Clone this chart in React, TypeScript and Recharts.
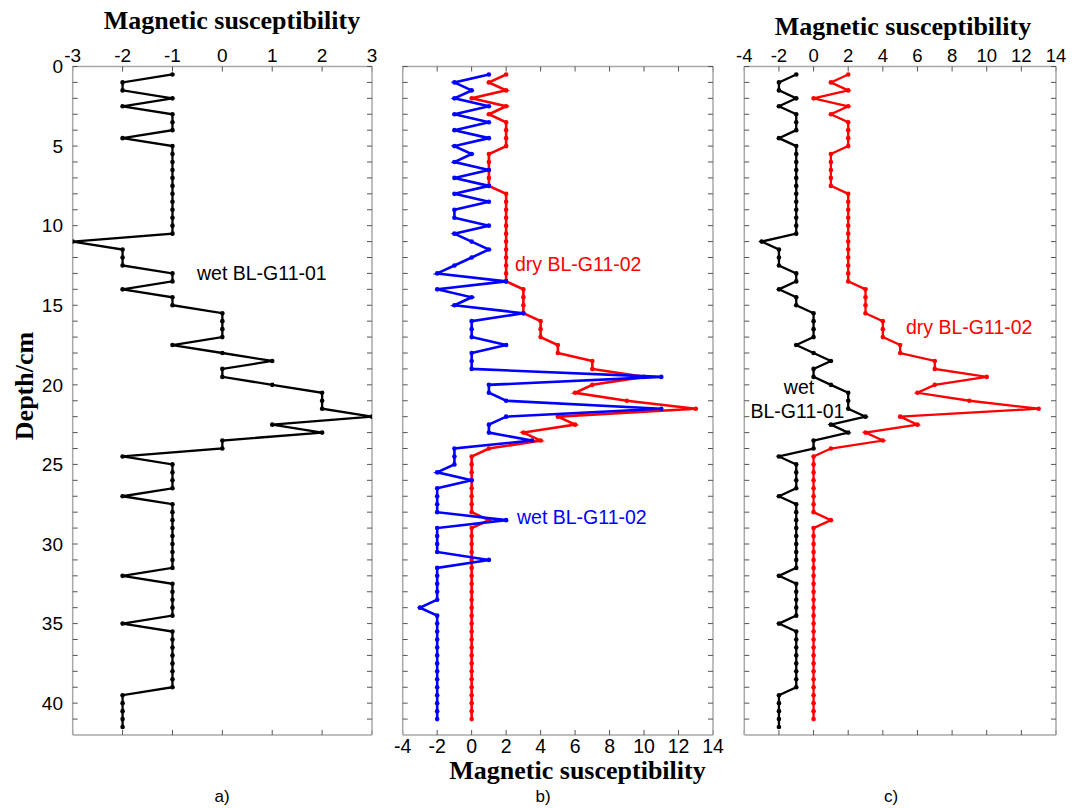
import React from 'react';
import { ScatterChart, Scatter, XAxis, YAxis } from 'recharts';

// Depths (cm)
const depthWet01 = [
  0.5, 1, 1.5, 2, 2.5, 3, 3.5, 4, 4.5, 5, 5.5, 6, 6.5, 7, 7.5, 8, 8.5, 9, 9.5, 10,
  10.5, 11, 11.5, 12, 12.5, 13, 13.5, 14, 14.5, 15, 15.5, 16, 16.5, 17, 17.5, 18, 18.5, 19, 19.5, 20,
  20.5, 21, 21.5, 22, 22.5, 23, 23.5, 24, 24.5, 25, 25.5, 26, 26.5, 27, 27.5, 28, 28.5, 29, 29.5, 30,
  30.5, 31, 31.5, 32, 32.5, 33, 33.5, 34, 34.5, 35, 35.5, 36, 36.5, 37, 37.5, 38, 38.5, 39, 39.5, 40,
  40.5, 41, 41.5,
];
const depthG1102 = [
  0.5, 1, 1.5, 2, 2.5, 3, 3.5, 4, 4.5, 5, 5.5, 6, 6.5, 7, 7.5, 8, 8.5, 9, 9.5, 10,
  10.5, 11, 11.5, 12, 12.5, 13, 13.5, 14, 14.5, 15, 15.5, 16, 16.5, 17, 17.5, 18, 18.5, 19, 19.5, 20,
  20.5, 21, 21.5, 22, 22.5, 23, 23.5, 24, 24.5, 25, 25.5, 26, 26.5, 27, 27.5, 28, 28.5, 29, 29.5, 30,
  30.5, 31, 31.5, 32, 32.5, 33, 33.5, 34, 34.5, 35, 35.5, 36, 36.5, 37, 37.5, 38, 38.5, 39, 39.5, 40,
  40.5, 41,
];

// Magnetic susceptibility values
const wetBLG1101 = [
  -1, -2, -2, -1, -2, -1, -1, -1, -2, -1, -1, -1, -1, -1, -1, -1, -1, -1, -1, -1,
  -1, -3, -2, -2, -2, -1, -1, -2, -1, -1, 0, 0, 0, 0, -1, 0, 1, 0, 0, 1,
  2, 2, 2, 3, 1, 2, 0, 0, -2, -1, -1, -1, -1, -2, -1, -1, -1, -1, -1, -1,
  -1, -1, -1, -2, -1, -1, -1, -1, -1, -2, -1, -1, -1, -1, -1, -1, -1, -1, -2, -2,
  -2, -2, -2,
];
const dryBLG1102 = [
  2, 1, 2, 0, 2, 1, 2, 2, 2, 2, 1, 1, 1, 1, 1, 2, 2, 2, 2, 2,
  2, 2, 2, 2, 2, 2, 2, 3, 3, 3, 3, 4, 4, 4, 5, 5, 7, 7, 10, 7,
  6, 9, 13, 5, 6, 3, 4, 1, 0, 0, 0, 0, 0, 0, 0, 0, 1, 0, 0, 0,
  0, 0, 0, 0, 0, 0, 0, 0, 0, 0, 0, 0, 0, 0, 0, 0, 0, 0, 0, 0,
  0, 0,
];
const wetBLG1102 = [
  1, -1, 0, -1, 1, -1, 1, -1, 1, -1, 0, -1, 1, -1, 1, -1, 1, -1, -1, 1,
  -1, 0, 1, 0, -1, -2, 2, -2, 0, -1, 3, 0, 0, 0, 2, 0, 0, 0, 11, 1,
  1, 2, 11, 2, 1, 1, 3.5, -1, -1, -1, -2, 0, -2, -2, -2, -2, 2, -2, -2, -2,
  -2, 1, -2, -2, -2, -2, -2, -3, -2, -2, -2, -2, -2, -2, -2, -2, -2, -2, -2, -2,
  -2, -2,
];

// Axis ticks
const xTicksA = [-3, -2, -1, 0, 1, 2, 3];
const xTicksBC = [-4, -2, 0, 2, 4, 6, 8, 10, 12, 14];
const depthTicks = [
  0, 1, 2, 3, 4, 5, 6, 7, 8, 9, 10, 11, 12, 13, 14, 15, 16, 17, 18, 19, 20,
  21, 22, 23, 24, 25, 26, 27, 28, 29, 30, 31, 32, 33, 34, 35, 36, 37, 38, 39, 40, 41,
];
const depthLabelTicks = [0, 5, 10, 15, 20, 25, 30, 35, 40];

const toPoints = (depths: number[], vals: number[]) =>
  depths.map((d, i) => ({ d, v: vals[i] }));

const SANS = '"Liberation Sans", Arial, Helvetica, sans-serif';
const SERIF = '"Liberation Serif", "Times New Roman", Times, serif';

const PLOT_TOP = 66.5;
const PLOT_BOTTOM = 735;
const H = 808;

type Series = { data: { d: number; v: number }[]; color: string; width: number };

function Panel(props: {
  left: number;
  width: number;
  px0: number;
  px1: number;
  xDomain: [number, number];
  xTicks: number[];
  labelSide: 'top' | 'bottom';
  showYLabels: boolean;
  fontSize: number;
  series: Series[];
}) {
  const { left, width, px0, px1, xDomain, xTicks, labelSide, showYLabels, fontSize, series } = props;
  const yw = showYLabels ? 50 : 10;
  const axH = 30;
  const margin = {
    top: PLOT_TOP - axH,
    bottom: H - PLOT_BOTTOM - axH,
    left: px0 - left - yw,
    right: left + width - px1 - 1,
  };
  const axisLine = { stroke: '#a8a8a8', strokeWidth: 1.5 };
  const tickLine = { stroke: '#555555', strokeWidth: 1 };
  const tickStyle = { fontSize, fill: '#000', fontFamily: SANS };
  const blank = () => '';
  return (
    <div style={{ position: 'absolute', left, top: 0, width, height: H }}>
      <ScatterChart width={width} height={H} margin={margin}>
        <XAxis
          xAxisId={0}
          type="number"
          dataKey="v"
          orientation={labelSide}
          domain={xDomain}
          ticks={xTicks}
          allowDataOverflow
          height={axH}
          axisLine={axisLine}
          tickLine={tickLine}
          tickSize={-5}
          tickMargin={labelSide === 'top' ? 10 : 9}
          tick={tickStyle}
          interval={0}
        />
        <XAxis
          xAxisId="m"
          type="number"
          dataKey="v"
          orientation={labelSide === 'top' ? 'bottom' : 'top'}
          domain={xDomain}
          ticks={xTicks}
          allowDataOverflow
          height={axH}
          axisLine={axisLine}
          tickLine={tickLine}
          tickSize={-5}
          tickFormatter={blank}
          interval={0}
        />
        <YAxis
          yAxisId={0}
          type="number"
          dataKey="d"
          reversed
          domain={[0, 42]}
          ticks={depthTicks}
          allowDataOverflow
          width={yw}
          axisLine={axisLine}
          tickLine={tickLine}
          tickSize={-5}
          tickMargin={14.7}
          tick={{ fontSize: 19, fill: '#000', fontFamily: SANS }}
          tickFormatter={(v: number) =>
            showYLabels && depthLabelTicks.includes(v) ? String(v) : ''
          }
          interval={0}
        />
        <YAxis
          yAxisId="m"
          type="number"
          dataKey="d"
          orientation="right"
          reversed
          domain={[0, 42]}
          ticks={depthTicks}
          allowDataOverflow
          width={1}
          axisLine={axisLine}
          tickLine={tickLine}
          tickSize={-5}
          tickFormatter={blank}
          interval={0}
        />
        {series.map((s, i) => (
          <Scatter
            key={i}
            xAxisId={0}
            yAxisId={0}
            data={s.data}
            line={{ stroke: s.color, strokeWidth: s.width }}
            lineType="joint"
            shape={(p: any) => <circle cx={p.cx} cy={p.cy} r={2.3} fill={s.color} />}
            isAnimationActive={false}
          />
        ))}
      </ScatterChart>
    </div>
  );
}

export default function App() {
  const wet01 = toPoints(depthWet01, wetBLG1101);
  const dry02 = toPoints(depthG1102, dryBLG1102);
  const wet02 = toPoints(depthG1102, wetBLG1102);
  const titleStyle = { fontFamily: SERIF, fontWeight: 'bold' as const, fontSize: 26 };
  const lbl = { fontFamily: SANS, fontSize: 19.5 };
  return (
    <div style={{ position: 'absolute', left: 0, top: 0, width: 1075, height: H, background: '#fff' }}>
      <Panel
        left={0}
        width={400}
        px0={72.7}
        px1={372}
        xDomain={[-3, 3]}
        xTicks={xTicksA}
        labelSide="top"
        showYLabels
        fontSize={19}
        series={[{ data: wet01, color: '#000000', width: 2.3 }]}
      />
      <Panel
        left={385}
        width={345}
        px0={402.7}
        px1={713}
        xDomain={[-4, 14]}
        xTicks={xTicksBC}
        labelSide="bottom"
        showYLabels={false}
        fontSize={19.5}
        series={[
          { data: dry02, color: '#ff0000', width: 2.6 },
          { data: wet02, color: '#0000ff', width: 2.6 },
        ]}
      />
      <Panel
        left={730}
        width={345}
        px0={744.3}
        px1={1056}
        xDomain={[-4, 14]}
        xTicks={xTicksBC}
        labelSide="top"
        showYLabels={false}
        fontSize={18.5}
        series={[
          { data: wet01, color: '#000000', width: 2.3 },
          { data: dry02, color: '#ff0000', width: 2.3 },
        ]}
      />
      <svg
        width={1075}
        height={H}
        style={{ position: 'absolute', left: 0, top: 0, pointerEvents: 'none' }}
      >
        <text x={232} y={29} textAnchor="middle" style={titleStyle}>Magnetic susceptibility</text>
        <text x={903} y={35} textAnchor="middle" style={titleStyle}>Magnetic susceptibility</text>
        <text x={577.5} y={779} textAnchor="middle" style={titleStyle}>Magnetic susceptibility</text>
        <text
          x={0}
          y={0}
          textAnchor="middle"
          transform="translate(33 386) rotate(-90)"
          style={titleStyle}
        >
          Depth/cm
        </text>
        <text x={197} y={280} fill="#000" style={lbl}>wet BL-G11-01</text>
        <text x={515} y={271} fill="#ff0000" style={lbl}>dry BL-G11-02</text>
        <text x={517} y={524} fill="#0000ff" style={lbl}>wet BL-G11-02</text>
        <text x={906} y={334} fill="#ff0000" style={lbl}>dry BL-G11-02</text>
        <text x={799} y={394} textAnchor="middle" fill="#000" style={lbl}>wet</text>
        <text x={797.5} y={418} textAnchor="middle" fill="#000" style={lbl}>BL-G11-01</text>
        <text x={222} y={802} textAnchor="middle" style={{ fontFamily: SANS, fontSize: 17 }}>a)</text>
        <text x={543} y={802} textAnchor="middle" style={{ fontFamily: SANS, fontSize: 17 }}>b)</text>
        <text x={891} y={802} textAnchor="middle" style={{ fontFamily: SANS, fontSize: 17 }}>c)</text>
      </svg>
    </div>
  );
}
